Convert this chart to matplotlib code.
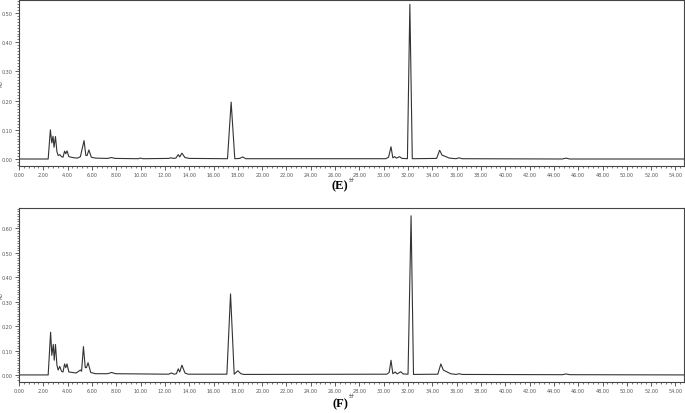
import matplotlib
matplotlib.use("agg")
import matplotlib.pyplot as plt
from matplotlib.ticker import MultipleLocator, FormatStrFormatter

plt.rcParams['font.family'] = ['DejaVu Sans', 'Noto Sans CJK JP']

# chromatogram (E): retention time (min) and absorbance (AU) at trace vertices
time_e = [0.0, 2.4, 2.58, 2.7, 2.8, 2.88, 3.0, 3.12, 3.22, 3.35, 3.5, 3.62, 3.75, 3.85, 3.95,
          4.1, 4.4, 4.8, 5.05, 5.35, 5.5, 5.6, 5.75, 5.95, 6.3, 7.3, 7.6, 7.9, 9.8, 10.0, 10.2,
          12.3, 12.5, 12.7, 12.9, 13.1, 13.22, 13.4, 13.65, 14.0, 17.15, 17.45, 17.75, 18.15,
          18.4, 18.65, 30.15, 30.4, 30.6, 30.75, 30.9, 31.05, 31.3, 31.5, 31.95, 32.15, 32.35,
          34.35, 34.6, 34.8, 35.0, 35.4, 35.95, 36.2, 36.45, 44.7, 45.0, 45.3, 54.7]
au_e = [0.0, 0.0, 0.100, 0.055, 0.078, 0.040, 0.077, 0.025, 0.012, 0.015, 0.008, 0.006,
        0.027, 0.018, 0.028, 0.008, 0.005, 0.003, 0.008, 0.063, 0.012, 0.012, 0.031, 0.006,
        0.003, 0.002, 0.005, 0.002, 0.001, 0.003, 0.001, 0.002, 0.004, 0.002, 0.003, 0.015,
        0.007, 0.020, 0.005, 0.002, 0.001, 0.195, 0.001, 0.002, 0.007, 0.001, 0.001, 0.006,
        0.042, 0.004, 0.008, 0.003, 0.008, 0.002, 0.001, 0.530, 0.001, 0.002, 0.030, 0.013,
        0.010, 0.003, 0.001, 0.004, 0.001, 0.0, 0.003, 0.0, 0.0]

# chromatogram (F)
time_f = [0.0, 2.4, 2.6, 2.7, 2.82, 2.9, 3.0, 3.12, 3.22, 3.35, 3.5, 3.62, 3.75, 3.85, 3.95,
          4.1, 4.4, 4.7, 5.05, 5.15, 5.3, 5.45, 5.55, 5.68, 5.9, 6.3, 7.3, 7.6, 7.95, 12.3,
          12.55, 12.75, 12.95, 13.1, 13.22, 13.4, 13.65, 13.9, 17.1, 17.4, 17.7, 17.85, 18.0,
          18.25, 18.5, 30.25, 30.45, 30.6, 30.75, 30.95, 31.1, 31.4, 31.6, 32.0, 32.25, 32.45,
          34.45, 34.7, 34.9, 35.1, 35.5, 35.95, 36.2, 36.45, 44.7, 45.0, 45.3, 54.7]
au_f = [0.0, 0.0, 0.175, 0.080, 0.125, 0.060, 0.125, 0.040, 0.020, 0.035, 0.015, 0.012,
        0.045, 0.030, 0.045, 0.012, 0.010, 0.008, 0.020, 0.015, 0.116, 0.030, 0.030, 0.050,
        0.010, 0.005, 0.005, 0.010, 0.005, 0.003, 0.008, 0.003, 0.005, 0.025, 0.012, 0.040,
        0.008, 0.003, 0.003, 0.332, 0.003, 0.010, 0.017, 0.005, 0.002, 0.003, 0.010, 0.060,
        0.005, 0.012, 0.004, 0.013, 0.004, 0.003, 0.652, 0.002, 0.003, 0.045, 0.020, 0.015,
        0.005, 0.002, 0.005, 0.002, 0.001, 0.004, 0.001, 0.0]

yticks_e = [0.0, 0.1, 0.2, 0.3, 0.4, 0.5]
yticks_f = [0.0, 0.1, 0.2, 0.3, 0.4, 0.5, 0.6]
xticks = list(range(0, 55, 2))

fig = plt.figure(figsize=(6.85, 4.14), dpi=100)
ax1 = fig.add_axes([19 / 685, 1 - 167 / 414, 665 / 685, 166 / 414])
ax2 = fig.add_axes([19 / 685, 1 - 383 / 414, 665 / 685, 174 / 414])


def style(ax, yticks, ylim):
    ax.set_xlim(0, 54.7)
    ax.set_ylim(*ylim)
    ax.set_xticks(xticks)
    ax.set_yticks(yticks)
    ax.xaxis.set_major_formatter(FormatStrFormatter('%.2f'))
    ax.yaxis.set_major_formatter(FormatStrFormatter('%.2f'))
    ax.xaxis.set_minor_locator(MultipleLocator(0.4))
    ax.yaxis.set_minor_locator(MultipleLocator(0.01))
    ax.tick_params(which='major', direction='out', length=3, width=0.6,
                   labelsize=3.5, labelcolor='#555555', color='#444444', pad=1.5)
    ax.tick_params(which='minor', direction='out', length=1.5, width=0.5, color='#444444')
    for s in ax.spines.values():
        s.set_linewidth(0.8)
        s.set_color('#444444')
    ax.set_ylabel('AU', fontsize=3.5, color='#555555')
    ax.yaxis.set_label_coords(-15 / 665, 0.5)
    ax.set_xlabel('分', fontsize=3.5, color='#555555', labelpad=0,
                  family=['Noto Sans CJK JP', 'DejaVu Sans'])


ax1.plot(time_e, au_e, color='#333333', lw=0.8)
style(ax1, yticks_e, (-0.024, 0.545))
ax2.plot(time_f, au_f, color='#333333', lw=0.8)
style(ax2, yticks_f, (-0.029, 0.684))

fig.text(340 / 685, 1 - 186 / 414, '(E)', ha='center', va='center', fontsize=9,
         fontweight='bold', family='Liberation Serif')
fig.text(340 / 685, 1 - 404 / 414, '(F)', ha='center', va='center', fontsize=9,
         fontweight='bold', family='Liberation Serif')

fig.savefig('out.png', dpi=100)
